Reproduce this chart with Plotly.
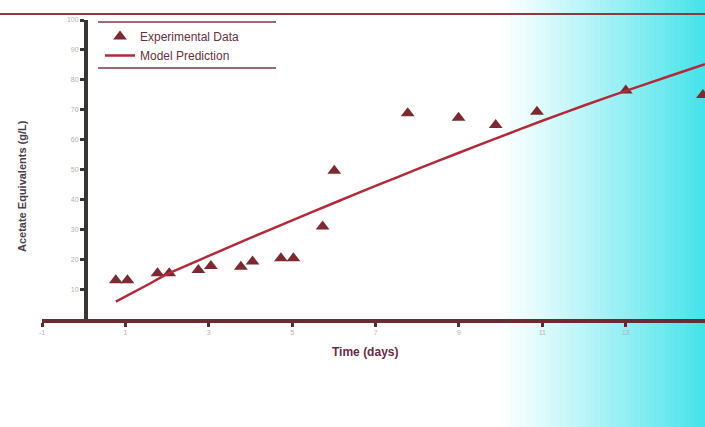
import plotly.graph_objects as go

# ---- data ----
exp_days = [0.77, 1.05, 1.77, 2.05, 2.75, 3.05, 3.77, 4.05, 4.73, 5.03,
            5.73, 6.01, 7.77, 8.99, 9.88, 10.87, 13.0, 14.85]
exp_acetate = [13.0, 13.0, 15.3, 15.3, 16.4, 17.7, 17.5, 19.2, 20.3, 20.3,
               30.9, 49.6, 68.8, 67.3, 64.9, 69.3, 76.4, 74.9]

model_days = [0.77, 1.5, 2, 3, 4, 5, 6, 7, 8, 9, 10, 11, 12, 13, 14, 14.9]
model_acetate = [5.8, 11.2, 15.0, 21.1, 27.1, 33.0, 38.8, 44.5, 50.1, 55.6,
                 61.0, 66.3, 71.4, 76.3, 81.0, 85.2]

x_tickvals = [-1, 1, 3, 5, 7, 9, 11, 13]
x_ticktext = ["-1", "1", "3", "5", "7", "9", "11", "13"]
y_tickvals = [10, 20, 30, 40, 50, 60, 70, 80, 90, 100]
y_ticktext = ["10", "20", "30", "40", "50", "60", "70", "80", "90", "100"]

FONT = "Arial, Liberation Sans, sans-serif"
W, H = 705, 427
L, R, T, B = 42, 0, 20, 108
PW, PH = W - L - R, H - T - B


def px_x(p):
    return (p - L) / PW


def px_y(p):
    return (H - B - p) / PH


fig = go.Figure()

fig.add_trace(go.Scatter(
    x=exp_days, y=exp_acetate, mode="markers", name="Experimental Data",
    marker=dict(symbol="triangle-up", size=12, color="#7a2a30"),
    cliponaxis=False,
))
fig.add_trace(go.Scatter(
    x=model_days, y=model_acetate, mode="lines", name="Model Prediction",
    line=dict(color="#b22a3a", width=2.5, shape="spline", smoothing=0.6),
))

shapes = []
# scanner cyan wash on the right side (style only: a smooth colour ramp)
start, end, n = 505, 705, 40
c0 = (250, 255, 255)
c1 = (70, 226, 234)
step = (end - start) / n
for i in range(n):
    t = ((i + 0.5) / n) ** 1.1
    col = tuple(round(c0[k] + (c1[k] - c0[k]) * t) for k in range(3))
    x0 = start + i * step
    shapes.append(dict(type="rect", xref="paper", yref="paper",
                       x0=px_x(x0), x1=px_x(x0 + step + 0.5),
                       y0=px_y(H), y1=px_y(0),
                       fillcolor="rgb(%d,%d,%d)" % col, line=dict(width=0),
                       layer="below"))
# page edge line at top
shapes.append(dict(type="line", xref="paper", yref="paper",
                   x0=px_x(0), x1=px_x(W), y0=px_y(14), y1=px_y(14),
                   line=dict(color="#8a3a40", width=2)))
# legend rules
for yy in (22, 68):
    shapes.append(dict(type="line", xref="paper", yref="paper",
                       x0=px_x(98), x1=px_x(276), y0=px_y(yy), y1=px_y(yy),
                       line=dict(color="#7a3a40", width=1.5)))

fig.update_layout(
    width=W, height=H,
    margin=dict(l=L, r=R, t=T, b=B),
    paper_bgcolor="white",
    plot_bgcolor="rgba(0,0,0,0)",
    font=dict(family=FONT, color="#5a3040"),
    showlegend=True,
    legend=dict(x=px_x(100), y=px_y(22), xanchor="left", yanchor="top",
                bgcolor="rgba(0,0,0,0)", font=dict(size=12, color="#6a3040"),
                tracegroupgap=0),
    xaxis=dict(range=[-1, 14.9], showgrid=False, zeroline=False,
               showline=True, linecolor="#6b2b32", linewidth=4,
               ticks="outside", ticklen=4, tickwidth=3, tickcolor="#5a2a30",
               tickvals=x_tickvals, ticktext=x_ticktext,
               tickfont=dict(size=7, color="#b8b0b0")),
    yaxis=dict(range=[0, 100], showgrid=False, zeroline=False,
               anchor="free", position=px_x(86),
               showline=True, linecolor="#3a3636", linewidth=4,
               ticks="outside", ticklen=4, tickwidth=3, tickcolor="#3a3636",
               tickvals=y_tickvals, ticktext=y_ticktext,
               tickfont=dict(size=7, color="#b8b0b0")),
    shapes=shapes,
    annotations=[
        dict(text="<b>Time (days)</b>", xref="paper", yref="paper",
             x=px_x(365), y=px_y(352), xanchor="center", yanchor="middle",
             showarrow=False, font=dict(size=12, color="#6a2a48")),
        dict(text="<b>Acetate Equivalents (g/L)</b>", xref="paper", yref="paper",
             x=px_x(22), y=px_y(186), xanchor="center", yanchor="middle",
             textangle=-90, showarrow=False,
             font=dict(size=11, color="#4a4048")),
    ],
)

fig.write_html("out.html")
